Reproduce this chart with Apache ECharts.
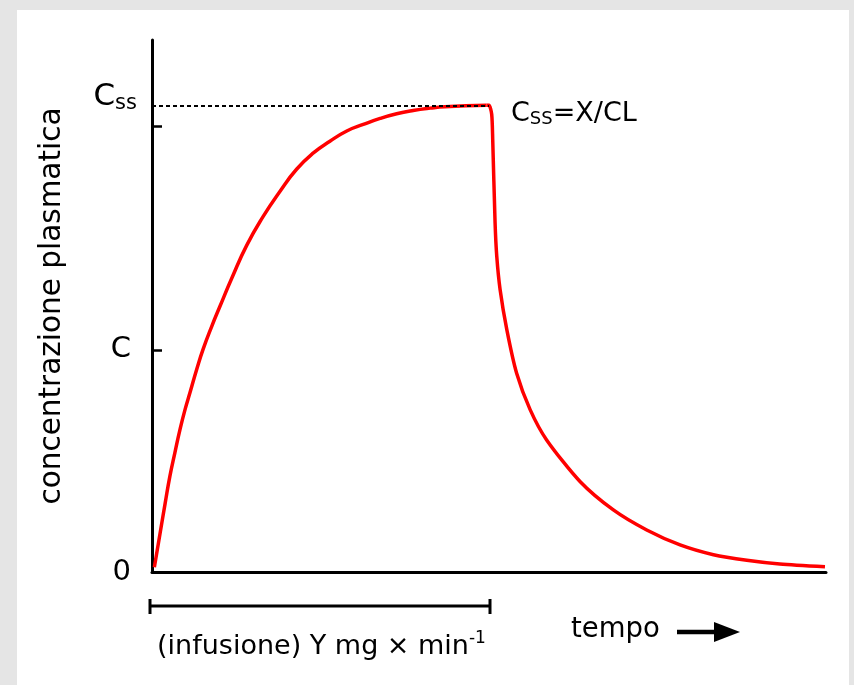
<!DOCTYPE html>
<html>
<head>
<meta charset="utf-8">
<script src="https://cdn.jsdelivr.net/npm/echarts@6/dist/echarts.min.js"></script>
<style>
  html, body { margin: 0; padding: 0; background: #e5e5e5; width: 854px; height: 685px; overflow: hidden; }
  #chart { position: absolute; left: 17px; top: 10px; width: 832px; height: 675px; background: #ffffff; }
</style>
</head>
<body>
<div id="chart"></div>
<script>
// Plasma concentration during a constant-rate infusion (rise to Css) and after it stops (decay)
const timeRise = [0.07, 0.24, 0.39, 0.53, 0.68, 0.83, 0.98, 1.13, 1.33, 1.52, 1.77, 2.02, 2.37, 2.81, 3.30, 3.80, 4.29, 4.79, 5.28, 5.78, 6.27, 6.77, 7.26, 7.75, 8.25, 8.69, 9.93];
const concRise = [0.01, 0.083, 0.147, 0.205, 0.256, 0.305, 0.348, 0.385, 0.435, 0.478, 0.526, 0.570, 0.630, 0.700, 0.762, 0.816, 0.863, 0.898, 0.923, 0.945, 0.959, 0.972, 0.982, 0.989, 0.994, 0.997, 1.0];
const timeFall = [10.0, 10.08, 10.11, 10.18, 10.23, 10.33, 10.53, 10.82, 11.22, 11.71, 12.70, 13.69, 14.68, 15.67, 16.66, 17.65, 18.63, 19.97];
const concFall = [1.0, 0.981, 0.927, 0.749, 0.677, 0.605, 0.519, 0.426, 0.348, 0.283, 0.194, 0.133, 0.090, 0.058, 0.037, 0.025, 0.017, 0.011];

const infusionEnd = 10;      // end of infusion on the time axis
const cssLevel = 1.0;        // steady-state concentration
const cLevel = 0.476;        // intermediate concentration C
const cssTick = 0.955;
const yTickLabels = ['0', 'C', 'Css'];
const yLabelValues = [0, cLevel, cssLevel];

const FONT = 'DejaVu Sans';
const rise = timeRise.map((t, i) => [t, concRise[i]]);
const fall = timeFall.map((t, i) => [t, concFall[i]]);

const chart = echarts.init(document.getElementById('chart'), null, { renderer: 'canvas' });

const curveStyle = { color: '#ff0000', width: 3.5 };

const option = {
  animation: false,
  backgroundColor: '#ffffff',
  grid: { left: 135, right: 23, top: 30, bottom: 113 },
  xAxis: {
    type: 'value', min: 0, max: 20,
    axisLine: { show: true, onZero: false, lineStyle: { color: '#000', width: 3 } },
    axisTick: { show: false }, axisLabel: { show: false }, splitLine: { show: false }
  },
  yAxis: {
    type: 'value', min: 0, max: 1.14,
    name: 'concentrazione plasmatica',
    nameLocation: 'middle', nameGap: 85, nameRotate: 90,
    nameTextStyle: { fontFamily: FONT, fontSize: 29.5, color: '#000' },
    axisLine: { show: true, lineStyle: { color: '#000', width: 3 } },
    axisTick: { show: true, inside: true, length: 10, lineStyle: { color: '#000', width: 2.5 },
      customValues: [cLevel, cssTick] },
    axisLabel: {
      show: true, margin: 15, customValues: yLabelValues,
      fontFamily: FONT, fontSize: 29, color: '#000',
      formatter: function (v) {
        const idx = yLabelValues.indexOf(v);
        const s = yTickLabels[idx];
        if (s === 'Css') return '{big|C}{sub|ss}';
        return '{n|' + s + '}';
      },
      rich: {
        n: { fontFamily: FONT, fontSize: 29, color: '#000', padding: [0, 6, 0, 0] },
        big: { fontFamily: FONT, fontSize: 31, color: '#000', padding: [0, 0, 16, 0] },
        sub: { fontFamily: FONT, fontSize: 21, color: '#000', padding: [0, 0, 4, 0] }
      }
    },
    splitLine: { show: false }
  },
  series: [
    {
      type: 'line', data: rise, showSymbol: false, smooth: 0.5,
      lineStyle: curveStyle, z: 3,
      markLine: {
        silent: true, symbol: 'none', label: { show: false },
        lineStyle: { color: '#000', type: [4, 3], width: 1.8 },
        data: [[{ coord: [0, cssLevel] }, { coord: [infusionEnd, cssLevel] }]]
      }
    },
    {
      type: 'line', data: [rise[rise.length - 1]].concat(fall), showSymbol: false, smooth: 0.25,
      lineStyle: curveStyle, z: 3
    }
  ]
};
chart.setOption(option);

// Annotations positioned through the axes' own scales
function px(x, y) { return chart.convertToPixel({ gridIndex: 0 }, [x, y]); }
const p0 = px(0, 0);
const pEnd = px(infusionEnd, 0);
const pCss = px(infusionEnd, cssLevel);
const bracketY = p0[1] + 34;

chart.setOption({
  graphic: [
    { type: 'line', shape: { x1: p0[0] - 2, y1: bracketY, x2: pEnd[0] + 1, y2: bracketY },
      style: { stroke: '#000', lineWidth: 3 } },
    { type: 'line', shape: { x1: p0[0] - 2, y1: bracketY - 7, x2: p0[0] - 2, y2: bracketY + 8 },
      style: { stroke: '#000', lineWidth: 3 } },
    { type: 'line', shape: { x1: pEnd[0] + 1, y1: bracketY - 7, x2: pEnd[0] + 1, y2: bracketY + 8 },
      style: { stroke: '#000', lineWidth: 3 } },
    { type: 'text', x: (p0[0] + pEnd[0]) / 2 + 1, y: bracketY + 41,
      style: {
        text: '{t|(infusione) Y mg × min}{sup|-1}', align: 'center', verticalAlign: 'middle',
        rich: {
          t: { fontFamily: FONT, fontSize: 27, fill: '#000' },
          sup: { fontFamily: FONT, fontSize: 17, fill: '#000', padding: [0, 0, 16, 0] }
        }
      } },
    { type: 'text', x: 554, y: bracketY + 24,
      style: { text: 'tempo', fontFamily: FONT, fontSize: 27.5, fill: '#000', verticalAlign: 'middle' } },
    { type: 'line', shape: { x1: 660, y1: bracketY + 26, x2: 705, y2: bracketY + 26 },
      style: { stroke: '#000', lineWidth: 4.5 } },
    { type: 'polygon', shape: { points: [[697, bracketY + 16], [723, bracketY + 26], [697, bracketY + 36]] },
      style: { fill: '#000' } },
    { type: 'text', x: pCss[0] + 22, y: pCss[1] + 9,
      style: {
        text: '{c|C}{s|SS}{c|=X/CL}', verticalAlign: 'middle',
        rich: {
          c: { fontFamily: FONT, fontSize: 27, fill: '#000' },
          s: { fontFamily: FONT, fontSize: 18, fill: '#000', padding: [10, 0, 0, 0] }
        }
      } }
  ]
});
</script>
</body>
</html>
